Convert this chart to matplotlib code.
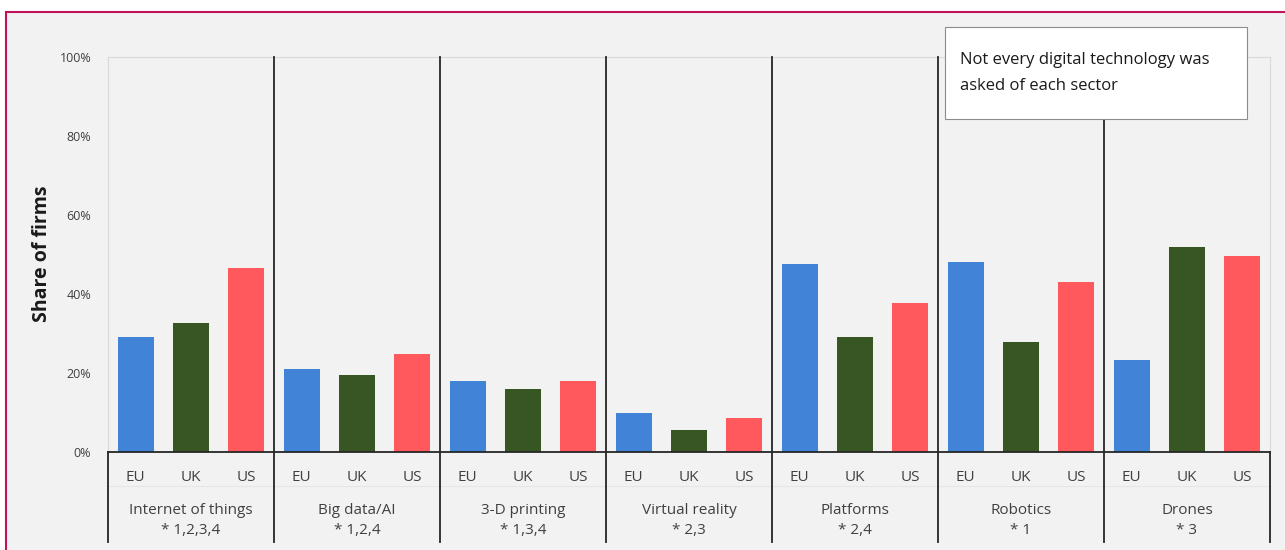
import numpy as np
import matplotlib.pyplot as plt
from matplotlib.patches import Rectangle
import matplotlib.transforms as mtransforms

plt.rcParams['font.family'] = ['Open Sans', 'DejaVu Sans']

# data (share of firms, %)
techs = ["Internet of things", "Big data/AI", "3-D printing", "Virtual reality",
         "Platforms", "Robotics", "Drones"]
notes = ["* 1,2,3,4", "* 1,2,4", "* 1,3,4", "* 2,3", "* 2,4", "* 1", "* 3"]
regions = ["EU", "UK", "US"]
eu = [29.1, 21.0, 18.0, 9.9, 47.6, 48.1, 23.3]
uk = [32.7, 19.5, 15.9, 5.6, 29.1, 27.8, 51.9]
us = [46.6, 24.8, 18.0, 8.6, 37.7, 43.0, 49.6]
colors = ["#4183d7", "#375623", "#ff585d"]

W, H = 1285, 550
fig = plt.figure(figsize=(W / 100, H / 100), dpi=100)
fig.patch.set_facecolor("white")

# outer framed panel
fig.patches.append(Rectangle((6 / W, -0.1), 1.2, (550 - 12) / H + 0.1,
                             transform=fig.transFigure, facecolor="#f2f2f2",
                             edgecolor="#c0145a", linewidth=1.5, zorder=-10))

ax = fig.add_axes([108 / W, (H - 452) / H, (1270 - 108) / W, (452 - 57) / H])
ax.set_facecolor("#f2f2f2")
ax.set_zorder(1)

n = len(techs)
k = len(regions)
for j, (vals, c) in enumerate(zip([eu, uk, us], colors)):
    x = np.arange(n) * k + j
    ax.bar(x, vals, width=0.65, color=c, zorder=2)

ax.set_xlim(-0.5, n * k - 0.5)
ax.set_ylim(0, 100)
ax.set_yticks(np.arange(0, 101, 20))
ax.set_yticklabels([f"{v}%" for v in range(0, 101, 20)], fontsize=9, color="#404040")
ax.set_xticks(np.arange(n * k))
ax.set_xticklabels(regions * n, fontsize=11, color="#404040")
ax.tick_params(axis="both", length=0)
ax.tick_params(axis="y", pad=12)
ax.tick_params(axis="x", pad=13)

for s in ["left", "top", "right"]:
    ax.spines[s].set_color("#d9d9d9")
ax.spines["bottom"].set_color("#262626")
ax.spines["bottom"].set_linewidth(1.3)

trans = mtransforms.blended_transform_factory(ax.transData, ax.transAxes)
bottom = (452 - 542) / 395
# category separators
for i in range(1, n):
    ax.plot([i * k - 0.5] * 2, [bottom, 1], transform=trans, color="#262626",
            lw=1.3, clip_on=False, zorder=3)
for xe in [-0.5, n * k - 0.5]:
    ax.plot([xe] * 2, [bottom, 0], transform=trans, color="#262626",
            lw=1.3, clip_on=False, zorder=3)
# faint row divider
ax.plot([-0.5, n * k - 0.5], [(452 - 486) / 395] * 2, transform=trans,
        color="#e6e6e6", lw=0.8, clip_on=False, zorder=1)

for i, (t, nt) in enumerate(zip(techs, notes)):
    xc = i * k + 1
    ax.text(xc, (452 - 510) / 395, t, transform=trans, ha="center", va="center",
            fontsize=11, color="#404040")
    ax.text(xc, (452 - 530) / 395, nt, transform=trans, ha="center", va="center",
            fontsize=11, color="#404040")

fig.text(42 / W, 1 - 254 / H, "Share of firms", rotation=90, ha="center",
         va="center", fontsize=14, fontweight="bold", color="#1a1a1a")

# note box
fig.patches.append(Rectangle((945 / W, 1 - 119 / H), (1247 - 945) / W, (119 - 27) / H,
                             transform=fig.transFigure, facecolor="white",
                             edgecolor="#8c8c8c", linewidth=0.8, zorder=5))
fig.text(960 / W, 1 - 73 / H, "Not every digital technology was\nasked of each sector",
         ha="left", va="center", fontsize=12, color="#1a1a1a", linespacing=1.75,
         zorder=6)

fig.savefig("out.png", dpi=100, facecolor=fig.get_facecolor())
